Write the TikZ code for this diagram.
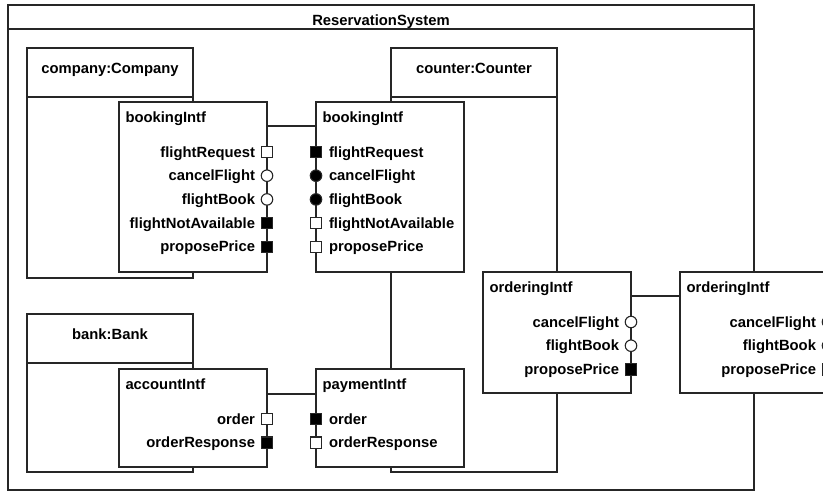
\documentclass[tikz,border=0pt]{standalone}
\usepackage{fontspec}
\setmainfont{Liberation Sans}
\begin{document}
\begin{tikzpicture}[x=1pt,y=-1pt,
  line width=1.1pt,
  ln/.style={draw=black!85},
  box/.style={draw=black!85, fill=white, inner sep=0pt, outer sep=0pt, anchor=north west},
  lbl/.style={font=\bfseries\fontsize{14.8}{17}\selectfont, inner sep=0pt, outer sep=0pt, text=black},
  portsq/.style={draw=black!85, rectangle, minimum size=11.5pt, inner sep=0pt, outer sep=0pt},
  portci/.style={draw=black!85, circle, minimum size=11.5pt, inner sep=0pt, outer sep=0pt}]
\useasboundingbox (0,0) rectangle (823,491);
\clip (0,0) rectangle (823,491);
\fill[white] (0,0) rectangle (823,491);

% outer system frame
\node[box, minimum width=746pt, minimum height=485pt] (sys) at (8,5) {};
\draw[ln] ([yshift=-24pt]sys.north west) -- ([yshift=-24pt]sys.north east);
\node[lbl, anchor=base] (tsys) at ([yshift=-20pt]sys.north) {ReservationSystem};

% parts
\node[box, minimum width=166pt, minimum height=230pt] (company) at (27,48) {};
\draw[ln] ([yshift=-49pt]company.north west) -- ([yshift=-49pt]company.north east);
\node[lbl, anchor=base] (tcompany) at ([yshift=-25pt]company.north) {company:Company};

\node[box, minimum width=166pt, minimum height=424pt] (counter) at (391,48) {};
\draw[ln] ([yshift=-49pt]counter.north west) -- ([yshift=-49pt]counter.north east);
\node[lbl, anchor=base] (tcounter) at ([yshift=-25pt]counter.north) {counter:Counter};

\node[box, minimum width=166pt, minimum height=158pt] (bank) at (27,314) {};
\draw[ln] ([yshift=-49pt]bank.north west) -- ([yshift=-49pt]bank.north east);
\node[lbl, anchor=base] (tbank) at ([yshift=-25pt]bank.north) {bank:Bank};

% interfaces
\node[box, minimum width=148pt, minimum height=170pt] (bkA) at (119,102) {};
\node[lbl, anchor=base west] (tbkA) at ([xshift=6.5pt,yshift=-20pt]bkA.north west) {bookingIntf};
\node[box, minimum width=148pt, minimum height=170pt] (bkB) at (316,102) {};
\node[lbl, anchor=base west] (tbkB) at ([xshift=6.5pt,yshift=-20pt]bkB.north west) {bookingIntf};

\node[box, minimum width=148pt, minimum height=98pt] (acc) at (119,369) {};
\node[lbl, anchor=base west] (tacc) at ([xshift=6.5pt,yshift=-20pt]acc.north west) {accountIntf};
\node[box, minimum width=148pt, minimum height=98pt] (pay) at (316,369) {};
\node[lbl, anchor=base west] (tpay) at ([xshift=6.5pt,yshift=-20pt]pay.north west) {paymentIntf};

\node[box, minimum width=148pt, minimum height=121pt] (ordA) at (483,272) {};
\node[lbl, anchor=base west] (tordA) at ([xshift=6.5pt,yshift=-20pt]ordA.north west) {orderingIntf};
\node[box, minimum width=148pt, minimum height=121pt] (ordB) at (680,272) {};
\node[lbl, anchor=base west] (tordB) at ([xshift=6.5pt,yshift=-20pt]ordB.north west) {orderingIntf};

% connectors
\draw[ln] ([yshift=-24pt]bkA.north east) -- ([yshift=-24pt]bkB.north west);
\draw[ln] ([yshift=-25pt]acc.north east) -- ([yshift=-25pt]pay.north west);
\draw[ln] ([yshift=-24pt]ordA.north east) -- ([yshift=-24pt]ordB.north west);

% ports
\foreach \i/\nm/\shp/\fil in {0/flightRequest/sq/white, 1/cancelFlight/ci/white, 2/flightBook/ci/white, 3/flightNotAvailable/sq/black, 4/proposePrice/sq/black} {
  \node[port\shp, fill=\fil] (bkAp\i) at ([yshift={-50pt-\i*23.7pt}]bkA.north east) {};
  \node[lbl, anchor=base east] (bkAl\i) at ([xshift=-12pt,yshift=-5pt]bkAp\i.center) {\nm};
}
\foreach \i/\nm/\shp/\fil in {0/flightRequest/sq/black, 1/cancelFlight/ci/black, 2/flightBook/ci/black, 3/flightNotAvailable/sq/white, 4/proposePrice/sq/white} {
  \node[port\shp, fill=\fil] (bkBp\i) at ([yshift={-50pt-\i*23.7pt}]bkB.north west) {};
  \node[lbl, anchor=base west] (bkBl\i) at ([xshift=13pt,yshift=-5pt]bkBp\i.center) {\nm};
}
\foreach \i/\nm/\shp/\fil in {0/order/sq/white, 1/orderResponse/sq/black} {
  \node[port\shp, fill=\fil] (accp\i) at ([yshift={-50pt-\i*23.7pt}]acc.north east) {};
  \node[lbl, anchor=base east] (accl\i) at ([xshift=-12pt,yshift=-5pt]accp\i.center) {\nm};
}
\foreach \i/\nm/\shp/\fil in {0/order/sq/black, 1/orderResponse/sq/white} {
  \node[port\shp, fill=\fil] (payp\i) at ([yshift={-50pt-\i*23.7pt}]pay.north west) {};
  \node[lbl, anchor=base west] (payl\i) at ([xshift=13pt,yshift=-5pt]payp\i.center) {\nm};
}
\foreach \i/\nm/\shp/\fil in {0/cancelFlight/ci/white, 1/flightBook/ci/white, 2/proposePrice/sq/black} {
  \node[port\shp, fill=\fil] (ordAp\i) at ([yshift={-50pt-\i*23.7pt}]ordA.north east) {};
  \node[lbl, anchor=base east] (ordAl\i) at ([xshift=-12pt,yshift=-5pt]ordAp\i.center) {\nm};
  \node[port\shp, fill=\fil] (ordBp\i) at ([yshift={-50pt-\i*23.7pt}]ordB.north east) {};
  \node[lbl, anchor=base east] (ordBl\i) at ([xshift=-12pt,yshift=-5pt]ordBp\i.center) {\nm};
}
\end{tikzpicture}
\end{document}
